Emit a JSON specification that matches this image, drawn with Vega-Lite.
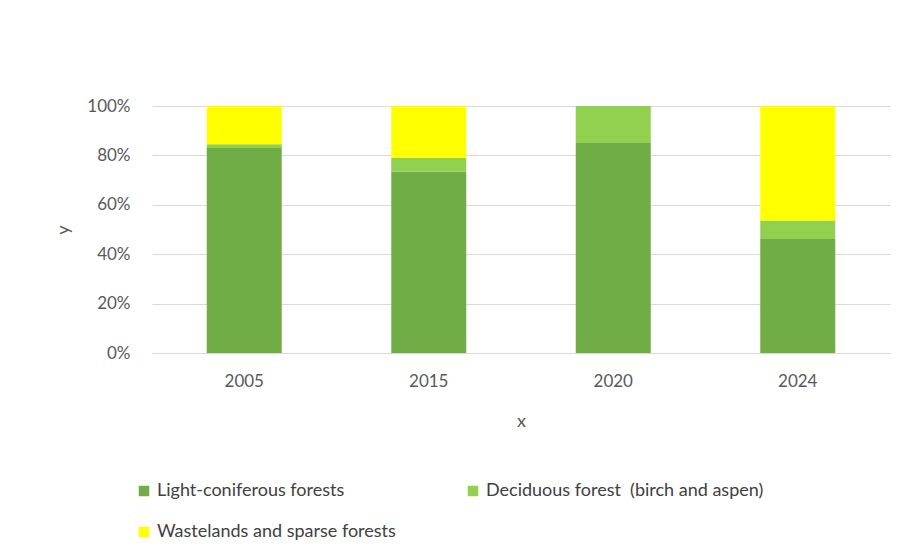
{
  "$schema": "https://vega.github.io/schema/vega-lite/v6.json",
  "autosize": {"type": "none"},
  "padding": {"left": 152, "top": 106, "right": 16, "bottom": 207},
  "width": 738,
  "height": 247,
  "background": "white",
  "config": {
    "font": "Lato",
    "view": {"stroke": null}
  },
  "data": {
    "values": [
      {"x": "2005", "type": "Light-coniferous forests", "o": 1, "v": 0.83},
      {"x": "2005", "type": "Deciduous forest\u00a0 (birch and aspen)", "o": 2, "v": 0.015},
      {"x": "2005", "type": "Wastelands and sparse forests", "o": 3, "v": 0.155},
      {"x": "2015", "type": "Light-coniferous forests", "o": 1, "v": 0.735},
      {"x": "2015", "type": "Deciduous forest\u00a0 (birch and aspen)", "o": 2, "v": 0.055},
      {"x": "2015", "type": "Wastelands and sparse forests", "o": 3, "v": 0.21},
      {"x": "2020", "type": "Light-coniferous forests", "o": 1, "v": 0.85},
      {"x": "2020", "type": "Deciduous forest\u00a0 (birch and aspen)", "o": 2, "v": 0.15},
      {"x": "2020", "type": "Wastelands and sparse forests", "o": 3, "v": 0.0},
      {"x": "2024", "type": "Light-coniferous forests", "o": 1, "v": 0.462},
      {"x": "2024", "type": "Deciduous forest\u00a0 (birch and aspen)", "o": 2, "v": 0.074},
      {"x": "2024", "type": "Wastelands and sparse forests", "o": 3, "v": 0.464}
    ]
  },
  "mark": {"type": "bar", "width": 75},
  "encoding": {
    "x": {
      "field": "x", "type": "nominal", "title": "x",
      "scale": {"paddingInner": 0, "paddingOuter": 0},
      "axis": {
        "labelAngle": 0, "labelFontSize": 17, "labelColor": "#595959", "labelPadding": 20,
        "ticks": false, "domainColor": "#d9d9d9", "grid": false,
        "titleFontSize": 18, "titleColor": "#595959", "titleFontWeight": "normal", "titlePadding": 23
      }
    },
    "y": {
      "field": "v", "type": "quantitative", "stack": "zero", "title": "y",
      "scale": {"domain": [0, 1]},
      "axis": {
        "format": ".0%", "values": [0, 0.2, 0.4, 0.6, 0.8, 1],
        "labelFontSize": 17, "labelColor": "#595959", "labelPadding": 22,
        "ticks": false, "domain": false, "gridColor": "#d9d9d9",
        "titleFontSize": 18, "titleColor": "#595959", "titleFontWeight": "normal", "titlePadding": 14
      }
    },
    "order": {"field": "o", "type": "quantitative"},
    "color": {
      "field": "type", "type": "nominal",
      "scale": {
        "domain": ["Light-coniferous forests", "Deciduous forest\u00a0 (birch and aspen)", "Wastelands and sparse forests"],
        "range": ["#70ad47", "#92d050", "#ffff00"]
      },
      "legend": {
        "title": null, "orient": "none", "legendX": -17, "legendY": 376,
        "direction": "horizontal",
        "columns": 2, "columnPadding": 68, "rowPadding": 23,
        "symbolType": "square", "symbolSize": 110, "symbolStrokeWidth": 0,
        "labelFontSize": 18, "labelColor": "#404040", "labelLimit": 400, "labelOffset": 4
      }
    }
  }
}
